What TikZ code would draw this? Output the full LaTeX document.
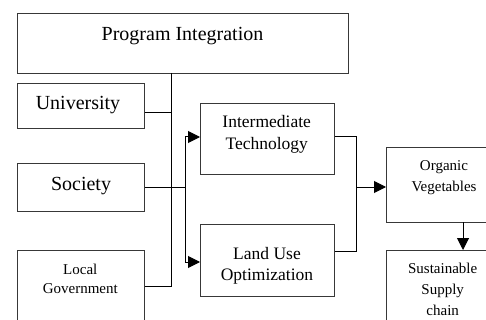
\documentclass[tikz,border=0pt]{standalone}
\usepackage{fontspec}
\setmainfont{Liberation Serif}
\usetikzlibrary{arrows.meta}
\begin{document}
\begin{tikzpicture}[x=1pt,y=-1pt,
  boxn/.style={draw=black!78,line width=1.4pt,rectangle,inner sep=0pt,anchor=north west},
  txt/.style={anchor=base,align=center,inner sep=0pt},
  conn/.style={draw=black,line width=1pt},
  arr/.style={conn,-{Triangle[length=12pt,width=12pt]}}]
\useasboundingbox (0,0) rectangle (486,320);
\clip (0,0) rectangle (486,320);
% boxes
\node[boxn,minimum width=331pt,minimum height=60pt] (pi) at (17,13) {};
\node[boxn,minimum width=127pt,minimum height=45pt] (uni) at (17,83) {};
\node[boxn,minimum width=127pt,minimum height=48pt] (soc) at (17,163) {};
\node[boxn,minimum width=127pt,minimum height=90pt] (lg) at (17,250) {};
\node[boxn,minimum width=134pt,minimum height=71pt] (it) at (200,103) {};
\node[boxn,minimum width=134pt,minimum height=72pt] (lu) at (200,224) {};
\node[boxn,minimum width=115pt,minimum height=75pt] (ov) at (386,147) {};
\node[boxn,minimum width=115pt,minimum height=95pt] (ssc) at (386,250) {};
% texts (base anchor = baseline of last line)
\node[txt,font=\fontsize{20}{24}\selectfont] (tpi) at (182.5,40.7) {Program Integration};
\node[txt,font=\fontsize{20}{24}\selectfont] (tuni) at (78,110) {University};
\node[txt,font=\fontsize{20}{24}\selectfont] (tsoc) at (81,190) {Society};
\node[txt,font=\fontsize{15}{19}\selectfont] (tlg) at (80.3,293.7) {Local\\Government};
\node[txt,font=\fontsize{17.5}{22}\selectfont] (tit) at (266.7,150) {Intermediate\\Technology};
\node[txt,font=\fontsize{17.5}{21}\selectfont] (tlu) at (267,280) {Land Use\\Optimization};
\node[txt,font=\fontsize{15}{21}\selectfont] (tov) at (444,191.7) {Organic\\Vegetables};
\node[txt,font=\fontsize{15}{21}\selectfont] (tssc) at (442.7,315) {Sustainable\\Supply\\chain};
% junction coordinates
\coordinate (busT) at (171,73);
\coordinate (busB) at (171,286);
\coordinate (uniJ) at (171,113);
\coordinate (socJ) at (185,187);
\coordinate (splT) at (185,137);
\coordinate (splB) at (185,262);
\coordinate (mrgT) at (356,137);
\coordinate (mrgB) at (356,251);
\coordinate (mrgM) at (356,187);
\coordinate (ovB) at (463,222);
% connectors
\draw[conn] (busT) -- (busB) -- (busB -| lg.east);
\draw[conn] (uniJ -| uni.east) -- (uniJ);
\draw[conn] (socJ -| soc.east) -- (socJ);
\draw[conn] (splT) -- (splB);
\draw[arr] (splT) -- (splT -| it.west);
\draw[arr] (splB) -- (splB -| lu.west);
\draw[conn] (mrgT -| it.east) -- (mrgT) -- (mrgB) -- (mrgB -| lu.east);
\draw[arr] (mrgM) -- (mrgM -| ov.west);
\draw[arr] (ovB) -- (ovB |- ssc.north);
\end{tikzpicture}
\end{document}
